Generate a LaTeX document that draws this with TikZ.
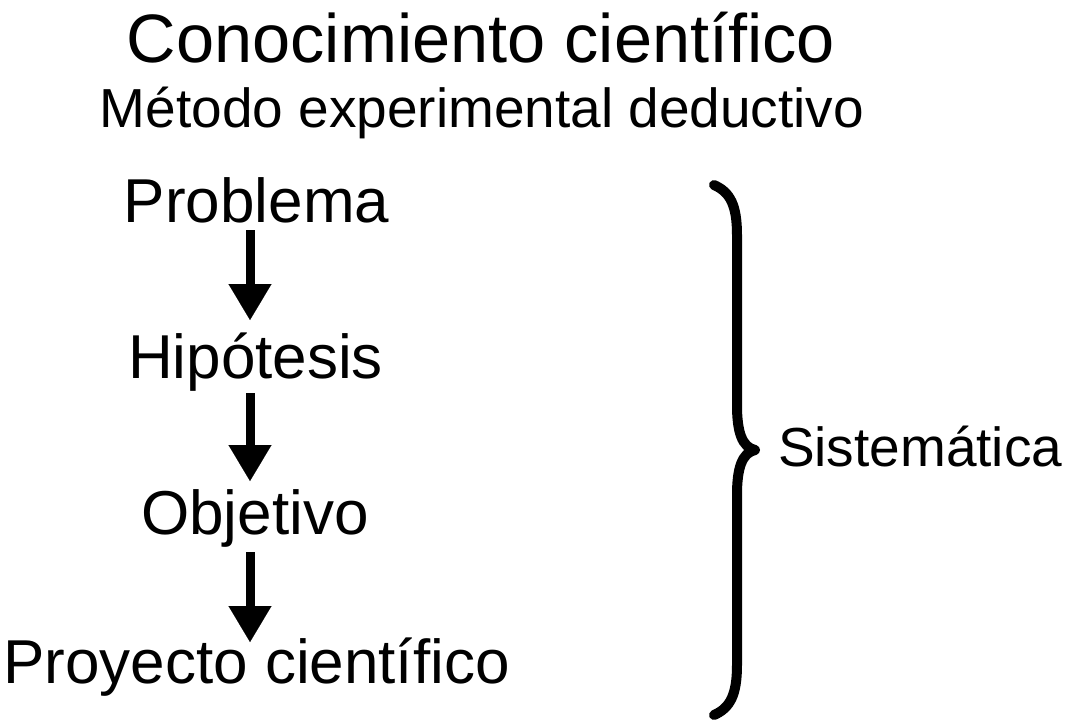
\documentclass[tikz,border=0pt]{standalone}
\usepackage{fontspec}
\setmainfont{Liberation Sans}
\usetikzlibrary{arrows.meta,calc}
\begin{document}
\begin{tikzpicture}[x=1pt,y=-1pt,
  lbl/.style={inner sep=0pt, outer sep=0pt, anchor=base, text=black},
  arr/.style={line width=9pt, -{Triangle[width=43pt,length=36pt,line width=0.1pt]}},
  bracestyle/.style={line width=10pt, line join=round, line cap=round},
  f68/.style={font=\fontsize{68.5}{80}\selectfont},
  f55/.style={font=\fontsize{55}{64}\selectfont},
  f62/.style={font=\fontsize{62}{72}\selectfont}
]
\useasboundingbox (0,0) rectangle (1081,723);
\fill[white] (0,0) rectangle (1081,723);

\node[lbl,f68] (title) at (481,62) {Conocimiento científico};
\node[lbl,f55] (sub) at (482,127) {Método experimental deductivo};

\node[lbl,f62] (prob) at (256.5,222) {Problema};
\node[lbl,f62] (hip) at (255.5,378) {Hipótesis};
\node[lbl,f62] (obj) at (255,534) {Objetivo};
\node[lbl,f62] (proy) at (256.5,683) {Proyecto científico};

\coordinate (ax) at (250,0);
\draw[arr] ($(prob.base -| ax)+(0,8)$) -- ($(hip.base -| ax)+(0,-58)$);
\draw[arr] ($(hip.base -| ax)+(0,15)$) -- ($(obj.base -| ax)+(0,-53)$);
\draw[arr] ($(obj.base -| ax)+(0,18)$) -- ($(proy.base -| ax)+(0,-41)$);

\draw[bracestyle] (714,185) .. controls (730,192) and (737,205) .. (737,235)
  -- (737,405) .. controls (737,432) and (742,447) .. (755,450)
  .. controls (742,453) and (737,468) .. (737,495)
  -- (737,665) .. controls (737,695) and (730,708) .. (714,715);

\node[lbl,f55,anchor=base west] (sis) at (778,466) {Sistemática};
\end{tikzpicture}
\end{document}
